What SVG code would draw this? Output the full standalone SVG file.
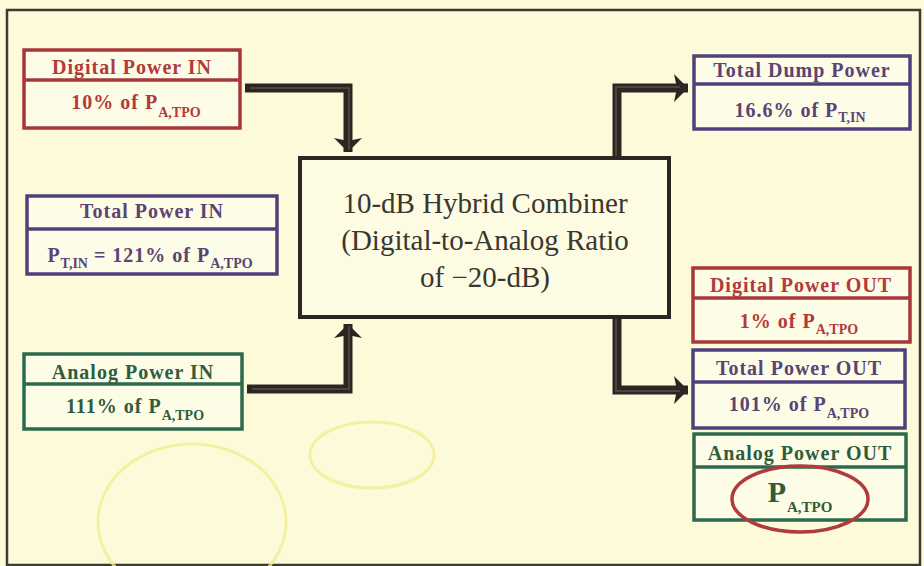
<svg xmlns="http://www.w3.org/2000/svg" width="924" height="566" viewBox="0 0 924 566">
<defs>
<style>
.bg{fill:#fcfad8}
.frame{fill:none;stroke:#3d3b30;stroke-width:2.5}
.box{fill:#fdfce6;stroke-width:3.5}
.red{stroke:#a8373a}
.pur{stroke:#4f407c}
.grn{stroke:#2c6a4e}
.t{font-family:"Liberation Serif","Times New Roman",serif;font-weight:bold;text-anchor:middle;font-size:20px;letter-spacing:1px}
.tr{fill:#b3393c}
.tp{fill:#5a4474}
.tg{fill:#305c3e}
.sub{font-size:14px;letter-spacing:0}
.center{font-family:"Liberation Serif","Times New Roman",serif;text-anchor:middle;font-size:29px;fill:#3a3630}
.wire{fill:none;stroke:#2b2622;stroke-width:9;stroke-linejoin:miter}
.hl{fill:none;stroke:#7a6a5e;stroke-width:1.5;opacity:0.6}
.stain{fill:none;stroke:#f2ec94;stroke-width:3;opacity:0.8}
</style>
<marker id="ah" markerUnits="userSpaceOnUse" markerWidth="32" markerHeight="32" refX="14" refY="16" orient="auto">
<path d="M0,2 L14,16 L0,30 L3,16 Z" fill="#2b2622"/>
</marker>
</defs>
<rect class="bg" x="0" y="0" width="924" height="566"/>
<rect class="frame" x="7" y="10" width="913" height="555"/>
<g id="stains">
<ellipse class="stain" cx="192" cy="522" rx="94" ry="78"/>
<ellipse class="stain" cx="372" cy="455" rx="62" ry="33"/>
</g>
<g id="connectors">
<path class="wire" d="M245,88 H348 V152" marker-end="url(#ah)"/>
<path class="wire" d="M247,389 H348 V324" marker-end="url(#ah)"/>
<path class="wire" d="M617,158 V88 H688" marker-end="url(#ah)"/>
<path class="wire" d="M617,317 V390 H688" marker-end="url(#ah)"/>
<path class="hl" d="M250,88 H349 V150"/>
<path class="hl" d="M349,326 V389 H252"/>
<path class="hl" d="M616,158 V87 H680"/>
<path class="hl" d="M616,317 V391 H680"/>
</g>
<g id="combiner">
<rect x="300" y="158" width="369" height="159" fill="#fdfce2" stroke="#2b2622" stroke-width="4"/>
<text class="center" x="485" y="213">10-dB Hybrid Combiner</text>
<text class="center" x="485" y="250">(Digital-to-Analog Ratio</text>
<text class="center" x="485" y="287">of −20-dB)</text>
</g>
<g id="digital-in">
<rect class="box red" x="24" y="50" width="216" height="78"/>
<line class="red" x1="24" y1="80" x2="240" y2="80" stroke-width="3.5"/>
<text class="t tr" x="132" y="74">Digital Power IN</text>
<text class="t tr" x="136" y="109">10% of P<tspan class="sub" dy="8">A,TPO</tspan></text>
</g>
<g id="total-in">
<rect class="box pur" x="27" y="196" width="250" height="78"/>
<line class="pur" x1="27" y1="229" x2="277" y2="229" stroke-width="3.5"/>
<text class="t tp" x="152" y="218">Total Power IN</text>
<text class="t tp" x="150" y="262">P<tspan class="sub" dy="6">T,IN</tspan><tspan dy="-6"> = 121% of P</tspan><tspan class="sub" dy="6">A,TPO</tspan></text>
</g>
<g id="analog-in">
<rect class="box grn" x="24" y="354" width="218" height="75"/>
<line class="grn" x1="24" y1="384" x2="242" y2="384" stroke-width="3.5"/>
<text class="t tg" x="133" y="379">Analog Power IN</text>
<text class="t tg" x="135" y="413">111% of P<tspan class="sub" dy="7">A,TPO</tspan></text>
</g>
<g id="dump">
<rect class="box pur" x="694" y="56" width="216" height="73"/>
<line class="pur" x1="694" y1="84" x2="910" y2="84" stroke-width="3.5"/>
<text class="t tp" x="802" y="77">Total Dump Power</text>
<text class="t tp" x="800" y="117">16.6% of P<tspan class="sub" dy="5">T,IN</tspan></text>
</g>
<g id="digital-out">
<rect class="box red" x="693" y="268" width="217" height="74"/>
<line class="red" x1="693" y1="298" x2="910" y2="298" stroke-width="3.5"/>
<text class="t tr" x="801" y="292">Digital Power OUT</text>
<text class="t tr" x="799" y="328">1% of P<tspan class="sub" dy="6">A,TPO</tspan></text>
</g>
<g id="total-out">
<rect class="box pur" x="693" y="350" width="212" height="78"/>
<line class="pur" x1="693" y1="382" x2="905" y2="382" stroke-width="3.5"/>
<text class="t tp" x="799" y="375">Total Power OUT</text>
<text class="t tp" x="799" y="411">101% of P<tspan class="sub" dy="7">A,TPO</tspan></text>
</g>
<g id="analog-out">
<rect class="box grn" x="694" y="434" width="212" height="86"/>
<line class="grn" x1="694" y1="467" x2="906" y2="467" stroke-width="3.5"/>
<text class="t tg" x="800" y="460">Analog Power OUT</text>
<text class="t tg" x="800" y="502" style="font-size:30px">P<tspan class="sub" dy="10" style="font-size:15px">A,TPO</tspan></text>
<ellipse cx="800" cy="499" rx="68" ry="33" fill="none" stroke="#b03a3c" stroke-width="3.5"/>
</g>
</svg>
